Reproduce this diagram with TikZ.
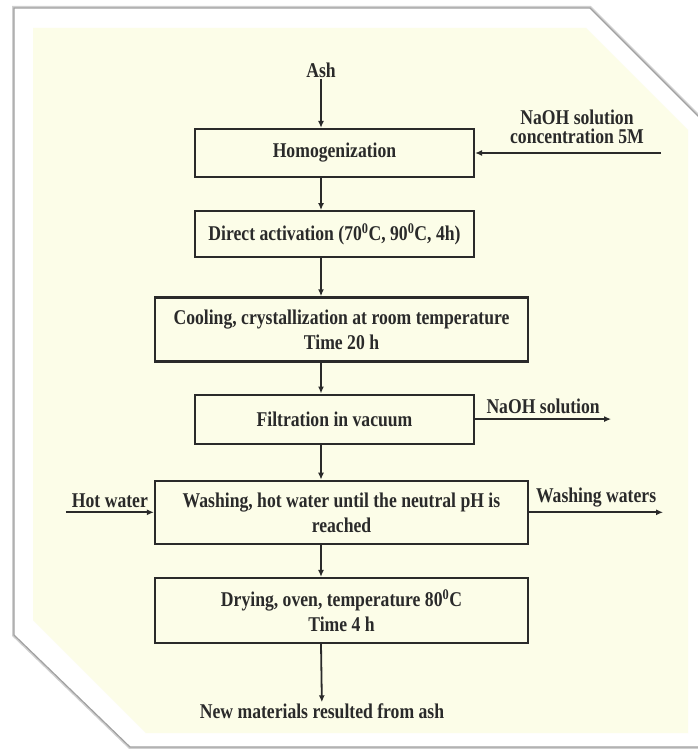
\documentclass[tikz,border=0pt]{standalone}
\usepackage{fontspec}
\setmainfont{Liberation Serif}[FakeStretch=0.84]
\usetikzlibrary{positioning, arrows.meta}

\definecolor{cream}{HTML}{FCFDE8}
\definecolor{ink}{HTML}{2A2A2A}
\definecolor{cardedge}{HTML}{A0A0A0}

\tikzset{
  stepbox/.style={draw=ink, line width=2.2pt, minimum width=279pt, minimum height=48pt,
    inner sep=2pt, align=center, text=ink, font=\bfseries\fontsize{21}{25}\selectfont},
  widebox/.style={stepbox, minimum width=373pt, minimum height=64pt, text depth=-4pt},
  flowlabel/.style={text=ink, inner sep=1pt, align=center, font=\bfseries\fontsize{21}{19}\selectfont},
  flow/.style={-{Latex[length=7pt, width=6pt]}, draw=ink, line width=1.8pt},
}

\begin{document}
\begin{tikzpicture}[x=1pt, y=1pt]
			\useasboundingbox (0,0) rectangle (698,-749);
			\fill[white] (0,0) rectangle (698,-749);

			% Card and background
			\draw[cardedge!50, line width=4pt] (14,-8) -- (590,-8) -- (702,-120) -- (702,-747) -- (130,-747) -- (14,-635) -- cycle;
			\filldraw[fill=white, draw=cardedge, line width=1.2pt] (14,-8) -- (590,-8) -- (702,-120) -- (702,-747) -- (130,-747) -- (14,-635) -- cycle;
			\fill[cream] (33,-28) -- (586,-28) -- (688,-130) -- (688,-733) -- (146,-733) -- (33,-620) -- cycle;

			% Nodes
			\node (ash) [flowlabel] at (321,-70) {Ash};
			\node (homog) [stepbox] at (334.5,-153) {Homogenization};
			\node (activ) [stepbox, minimum height=46pt, below=32pt of homog] {Direct activation (70\textsuperscript{0}C, 90\textsuperscript{0}C, 4h)};
			\node (cool) [widebox, below=38pt of activ, xshift=7pt] {Cooling, crystallization at room temperature\\Time 20 h};
			\node (filt) [stepbox, minimum height=49pt, below=31pt of cool, xshift=-7pt] {Filtration in vacuum};
			\node (wash) [widebox, minimum height=63pt, below=35pt of filt, xshift=7pt, text depth=-2pt] {Washing, hot water until the neutral pH is\\reached};
			\node (dry) [widebox, minimum height=65pt, below=32pt of wash, text depth=-1pt] {Drying, oven, temperature 80\textsuperscript{0}C\\Time 4 h};
			\node (product) [flowlabel] at (322,-711) {New materials resulted from ash};

			\node (naohin) [flowlabel] at (577,-127) {NaOH solution\\concentration 5M};
			\path (homog.east) ++(186,0) coordinate (naohsrc);
			\path (filt.east) ++(136,0) coordinate (naohdst);
			\path (wash.west) ++(-88,0) coordinate (hotsrc);
			\path (wash.east) ++(134,0) coordinate (washdst);

			% Edges
			\draw[flow] (ash) -- (ash |- homog.north);
			\draw[flow] (homog.south -| ash) -- (activ.north -| ash);
			\draw[flow] (activ.south -| ash) -- (cool.north -| ash);
			\draw[flow] (cool.south -| ash) -- (filt.north -| ash);
			\draw[flow] (filt.south -| ash) -- (wash.north -| ash);
			\draw[flow] (wash.south -| ash) -- (dry.north -| ash);
			\draw[flow] (dry.south -| ash) -- (product);

			\draw[flow] (naohsrc) -- (homog.east);
			\draw[flow] (filt.east) -- node (naohout) [flowlabel, above=3pt] {NaOH solution} (naohdst);
			\draw[flow] (hotsrc) -- node (hotwater) [flowlabel, above=3pt] {Hot water} (wash.west);
			\draw[flow] (wash.east) -- node (washout) [flowlabel, above=3pt] {Washing waters} (washdst);

		\end{tikzpicture}
\end{document}
